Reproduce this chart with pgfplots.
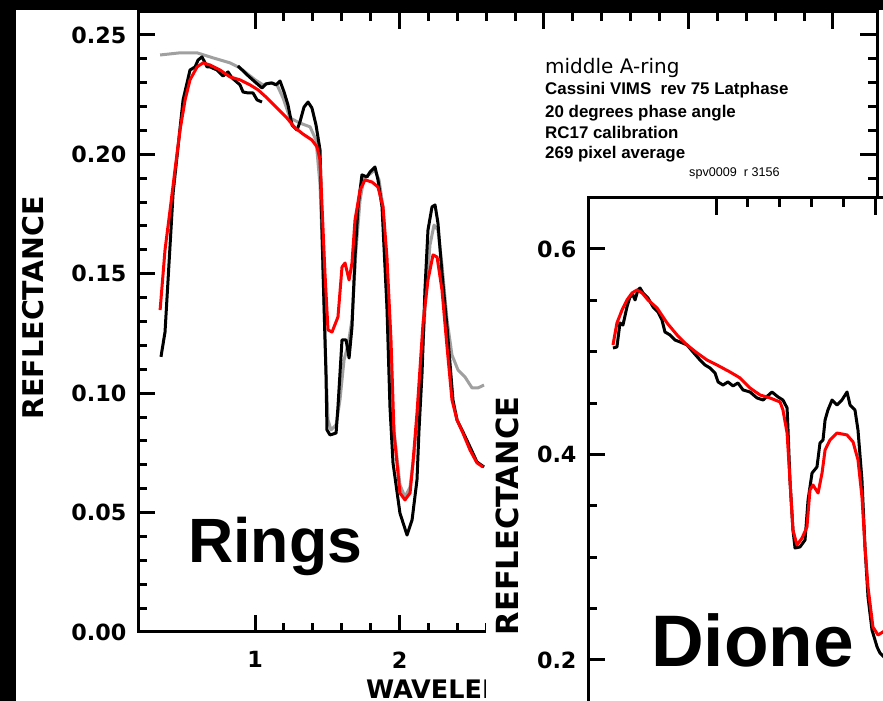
\documentclass[border=0pt]{standalone}
\usepackage{pgfplots}
\pgfplotsset{compat=1.18}
\usepackage{fontspec}
\setmainfont{Liberation Sans}
\newfontfamily\dejavu{DejaVu Sans}
\definecolor{gry}{RGB}{160,160,160}
\newcommand\tickfont{\dejavu\bfseries\fontsize{22.3}{24}\selectfont}
\newcommand\labfont{\dejavu\bfseries\fontsize{28.5}{30}\selectfont}
\newcommand\tl[1]{\mbox{\tickfont #1}}
\pgfplotsset{vims/.style={scale only axis, anchor=south west, line width=3pt,
  every tick/.style={black, line width=3pt}, major tick length=17pt, minor tick length=9pt,
  tick align=inside, xtick pos=both, ytick pos=both,
  yticklabel style={inner sep=0pt, anchor=east, xshift=-10pt},
  xticklabel style={inner sep=0pt, anchor=north, yshift=-18pt},
  every axis plot/.append style={line width=3pt, line join=round, no marks}}}
\begin{document}
\begin{tikzpicture}[x=1pt,y=1pt]
\useasboundingbox (0,0) rectangle (883,701);
\begin{scope}[overlay]
\clip (0,0) rectangle (883,701);
\fill[black] (0,0) rectangle (883,701);
\fill[white] (16,0) rectangle (883,691);
\begin{axis}[vims, at={(138pt,69pt)}, width=739pt, height=620pt,
  xmin=0.19, xmax=5.305, ymin=0, ymax=0.2596,
  xtick={1,2,3,4,5}, xticklabels={\tl{1},\tl{2},{},{},{}}, minor x tick num=4,
  ytick={0,0.05,0.1,0.15,0.2,0.25},
  yticklabels={\tl{0.00},\tl{0.05},\tl{0.10},\tl{0.15},\tl{0.20},\tl{0.25}}, minor y tick num=4]
\addplot[gry] coordinates {(0.343,0.2416)(0.481,0.2425)(0.599,0.2425)(0.709,0.2404)(0.827,0.2383)(0.896,0.2362)(1.000,0.2312)(1.055,0.2291)(1.104,0.2299)(1.152,0.2291)(1.194,0.2236)(1.242,0.2152)(1.311,0.2131)(1.381,0.2115)(1.422,0.2060)(1.450,0.1872)(1.471,0.1516)(1.491,0.1097)(1.505,0.0888)(1.526,0.0846)(1.561,0.0867)(1.588,0.0972)(1.616,0.1139)(1.644,0.1202)(1.671,0.1307)(1.699,0.1600)(1.727,0.1809)(1.754,0.1901)(1.796,0.1918)(1.830,0.1935)(1.858,0.1893)(1.886,0.1780)(1.913,0.1390)(1.941,0.0972)(1.969,0.0804)(2.003,0.0616)(2.038,0.0565)(2.073,0.0607)(2.100,0.0741)(2.128,0.0930)(2.156,0.1139)(2.183,0.1411)(2.211,0.1621)(2.239,0.1704)(2.266,0.1683)(2.294,0.1537)(2.329,0.1307)(2.363,0.1160)(2.405,0.1097)(2.453,0.1068)(2.502,0.1022)(2.543,0.1022)(2.585,0.1034)};
\addplot[black] coordinates {(0.349,0.1152)(0.377,0.1256)(0.433,0.1838)(0.502,0.2228)(0.550,0.2353)(0.585,0.2366)(0.606,0.2395)(0.633,0.2408)(0.668,0.2366)(0.689,0.2366)(0.737,0.2353)(0.779,0.2328)(0.813,0.2345)(0.841,0.2320)(0.896,0.2291)(0.917,0.2261)(0.952,0.2257)(0.986,0.2257)(1.014,0.2228)(1.048,0.2219)};
\addplot[black] coordinates {(0.882,0.2370)(0.945,0.2333)(1.000,0.2303)(1.048,0.2278)(1.076,0.2295)(1.118,0.2299)(1.145,0.2291)(1.173,0.2307)(1.201,0.2261)(1.228,0.2207)(1.256,0.2123)(1.291,0.2102)(1.311,0.2136)(1.339,0.2198)(1.367,0.2219)(1.394,0.2194)(1.422,0.2123)(1.450,0.2018)(1.471,0.1503)(1.491,0.1085)(1.498,0.0846)(1.519,0.0825)(1.561,0.0833)(1.574,0.0942)(1.602,0.1223)(1.630,0.1223)(1.651,0.1147)(1.671,0.1277)(1.692,0.1570)(1.713,0.1780)(1.740,0.1914)(1.775,0.1905)(1.796,0.1926)(1.830,0.1947)(1.851,0.1893)(1.879,0.1780)(1.913,0.1361)(1.934,0.0942)(1.955,0.0708)(2.003,0.0498)(2.052,0.0406)(2.087,0.0469)(2.121,0.0637)(2.135,0.0846)(2.156,0.1085)(2.176,0.1432)(2.197,0.1683)(2.225,0.1780)(2.246,0.1788)(2.266,0.1713)(2.294,0.1503)(2.329,0.1277)(2.370,0.0972)(2.398,0.0888)(2.439,0.0838)(2.488,0.0775)(2.536,0.0712)(2.585,0.0691)};
\addplot[red] coordinates {(0.343,0.1348)(0.377,0.1600)(0.412,0.1767)(0.446,0.1935)(0.481,0.2102)(0.516,0.2228)(0.550,0.2312)(0.599,0.2366)(0.640,0.2383)(0.689,0.2374)(0.758,0.2353)(0.827,0.2324)(0.896,0.2312)(0.965,0.2291)(1.021,0.2270)(1.083,0.2236)(1.152,0.2194)(1.221,0.2152)(1.277,0.2111)(1.332,0.2085)(1.394,0.2060)(1.429,0.2031)(1.450,0.1977)(1.464,0.1780)(1.484,0.1503)(1.505,0.1265)(1.533,0.1256)(1.574,0.1319)(1.602,0.1528)(1.623,0.1545)(1.651,0.1474)(1.671,0.1545)(1.692,0.1725)(1.727,0.1851)(1.761,0.1893)(1.810,0.1884)(1.851,0.1863)(1.886,0.1780)(1.913,0.1570)(1.941,0.1223)(1.962,0.0833)(2.003,0.0582)(2.038,0.0553)(2.073,0.0582)(2.093,0.0708)(2.121,0.0917)(2.163,0.1294)(2.197,0.1474)(2.232,0.1579)(2.260,0.1570)(2.294,0.1432)(2.329,0.1193)(2.363,0.0972)(2.398,0.0888)(2.439,0.0833)(2.488,0.0762)(2.536,0.0708)(2.578,0.0691)};
\end{axis}
\node[rotate=90, font=\labfont, inner sep=0pt] at (33.5,393) {REFLECTANCE};
\node[anchor=base west, inner sep=0pt, font=\dejavu\bfseries\fontsize{25.5}{27}\selectfont] at (366,2.4) {WAVELENGTH (µm)};
\node[anchor=base west, inner sep=0pt, font=\bfseries\fontsize{62.6}{64}\selectfont] at (188,138) {Rings};
\node[anchor=base west, inner sep=0pt, font=\dejavu\fontsize{20}{22}\selectfont] at (545,627) {middle A-ring};
\begin{scope}[every node/.style={anchor=base west, inner sep=0pt, font=\bfseries\fontsize{16.9}{18}\selectfont}]
\node at (545,606) {Cassini VIMS~~rev 75 Latphase};
\node at (545,583.3) {20 degrees phase angle};
\node at (545,562) {RC17 calibration};
\node at (545,542.5) {269 pixel average};
\end{scope}
\node[anchor=base west, inner sep=0pt, font=\fontsize{12.6}{14}\selectfont] at (689,524.3) {spv0009~~r 3156};
\fill[white] (486,-80) rectangle (900,504);
\begin{axis}[vims, at={(588pt,-61.75pt)}, width=811.7pt, height=564.75pt,
  xmin=0.195, xmax=5.3, ymin=0.1, ymax=0.6496,
  xtick={1,2,3,4,5}, xticklabels={}, minor x tick num=4,
  ytick={0.2,0.4,0.6}, yticklabels={\tl{0.2},\tl{0.4},\tl{0.6}}, minor y tick num=3]
\addplot[black] coordinates {(0.352,0.5036)(0.377,0.5046)(0.396,0.5280)(0.415,0.5260)(0.440,0.5436)(0.459,0.5533)(0.478,0.5552)(0.491,0.5504)(0.509,0.5601)(0.522,0.5620)(0.541,0.5572)(0.572,0.5523)(0.604,0.5436)(0.635,0.5387)(0.660,0.5309)(0.679,0.5192)(0.711,0.5163)(0.742,0.5114)(0.774,0.5095)(0.818,0.5066)(0.855,0.4998)(0.899,0.4920)(0.931,0.4871)(0.962,0.4842)(0.994,0.4793)(1.013,0.4706)(1.044,0.4676)(1.075,0.4706)(1.107,0.4667)(1.138,0.4696)(1.170,0.4628)(1.214,0.4608)(1.258,0.4550)(1.296,0.4530)(1.352,0.4608)(1.390,0.4560)(1.421,0.4530)(1.447,0.4453)(1.453,0.4238)(1.465,0.3752)(1.484,0.3265)(1.497,0.3090)(1.528,0.3100)(1.560,0.3168)(1.579,0.3557)(1.604,0.3820)(1.635,0.3878)(1.654,0.4112)(1.673,0.4141)(1.686,0.4336)(1.704,0.4433)(1.730,0.4530)(1.761,0.4482)(1.792,0.4530)(1.824,0.4608)(1.843,0.4482)(1.874,0.4433)(1.893,0.4238)(1.918,0.3752)(1.937,0.3100)(1.956,0.2613)(1.981,0.2292)(2.013,0.2127)(2.031,0.2068)(2.057,0.2029)(2.094,0.2050)};
\addplot[red] coordinates {(0.352,0.5066)(0.377,0.5280)(0.409,0.5406)(0.440,0.5504)(0.472,0.5572)(0.503,0.5601)(0.535,0.5572)(0.572,0.5504)(0.629,0.5426)(0.692,0.5280)(0.755,0.5163)(0.818,0.5066)(0.881,0.4988)(0.943,0.4920)(1.006,0.4871)(1.088,0.4803)(1.151,0.4745)(1.214,0.4647)(1.277,0.4579)(1.340,0.4550)(1.403,0.4511)(1.421,0.4433)(1.447,0.4209)(1.465,0.3752)(1.484,0.3265)(1.509,0.3119)(1.541,0.3187)(1.572,0.3294)(1.591,0.3655)(1.610,0.3703)(1.642,0.3625)(1.667,0.3820)(1.686,0.4044)(1.717,0.4141)(1.761,0.4209)(1.824,0.4190)(1.862,0.4122)(1.893,0.3947)(1.918,0.3586)(1.937,0.3100)(1.956,0.2710)(1.987,0.2321)(2.019,0.2243)(2.050,0.2273)(2.094,0.2310)};
\end{axis}
\node[rotate=90, font=\labfont\fontsize{30.5}{32}\selectfont, inner sep=0pt] at (507,185) {REFLECTANCE};
\node[anchor=base west, inner sep=0pt, font=\bfseries\fontsize{73}{75}\selectfont] at (651,34.3) {Dione};
\end{scope}
\end{tikzpicture}
\end{document}
